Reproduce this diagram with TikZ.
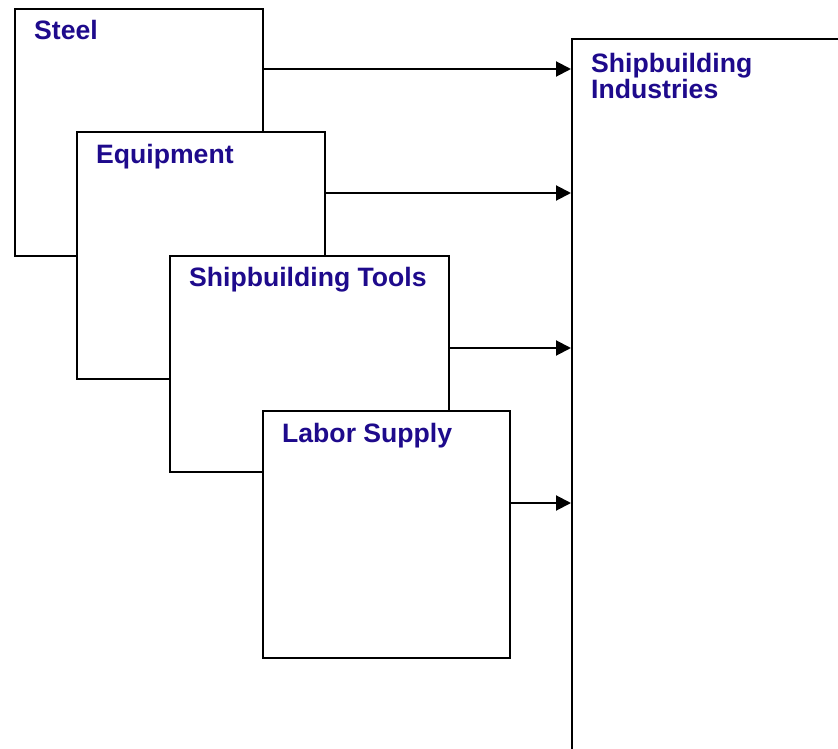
\documentclass[tikz,border=0pt]{standalone}
\usepackage{fontspec}
\setmainfont{Liberation Sans}
\usetikzlibrary{arrows.meta,calc}
\definecolor{labelblue}{RGB}{30,10,140}
\begin{document}
\begin{tikzpicture}[x=1pt,y=-1pt,
  box/.style={draw=black,line width=2pt,fill=white,rectangle,inner sep=0pt,anchor=north west},
  lbl/.style={text=labelblue,font=\fontsize{26.6}{26.6}\selectfont\bfseries,inner sep=0pt,anchor=base west,align=left},
  arr/.style={line width=2pt,-{Triangle[length=15pt,width=15pt]}}]
\useasboundingbox (0,0) rectangle (838,749);
\clip (0,0) rectangle (838,749);
\fill[white] (0,0) rectangle (838,749);
% boxes
\node[box,minimum width=248pt,minimum height=247pt] (steel) at (14,8) {};
\node[lbl] (steelL) at ($(steel.north west)+(20,32)$) {Steel};
\node[box,minimum width=248pt,minimum height=247pt] (equip) at (76,131) {};
\node[lbl] (equipL) at ($(equip.north west)+(20,33)$) {Equipment};
\node[box,minimum width=279pt,minimum height=216pt] (tools) at (169,255) {};
\node[lbl] (toolsL) at ($(tools.north west)+(20,31)$) {Shipbuilding Tools};
\node[box,minimum width=247pt,minimum height=247pt] (labor) at (262,410) {};
\node[lbl] (laborL) at ($(labor.north west)+(20,32)$) {Labor Supply};
\node[box,minimum width=320pt,minimum height=760pt] (ind) at (571,38) {};
\node[lbl] (indL1) at ($(ind.north west)+(20,35)$) {Shipbuilding};
\node[lbl] (indL2) at ($(ind.north west)+(20,61)$) {Industries};
% arrows
\draw[arr] (steel.east |- 0,69) -- (ind.west |- 0,69);
\draw[arr] (equip.east |- 0,193) -- (ind.west |- 0,193);
\draw[arr] (tools.east |- 0,348) -- (ind.west |- 0,348);
\draw[arr] (labor.east |- 0,503) -- (ind.west |- 0,503);
\end{tikzpicture}
\end{document}
